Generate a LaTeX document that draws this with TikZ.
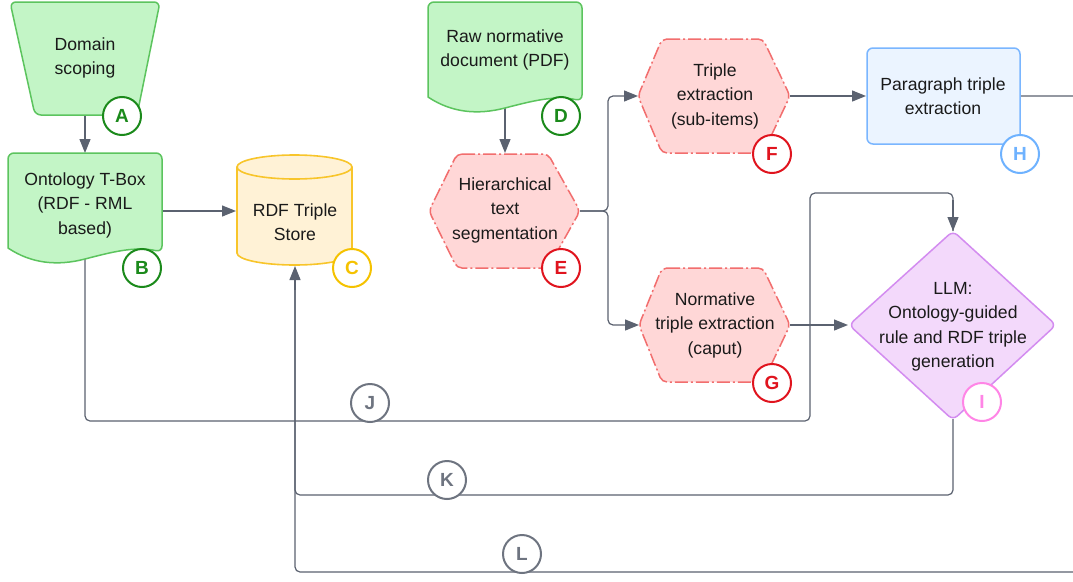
\documentclass[tikz,border=0pt]{standalone}
\usepackage{fontspec}
\setmainfont{Liberation Sans}
\usetikzlibrary{arrows.meta}
\definecolor{linegray}{HTML}{5B6270}
\definecolor{txt}{HTML}{1A1A1A}
\definecolor{gfill}{HTML}{C3F5C6}
\definecolor{gdraw}{HTML}{5CC45E}
\definecolor{gbadge}{HTML}{1B8A1B}
\definecolor{yfill}{HTML}{FFF2D6}
\definecolor{ydraw}{HTML}{F8C52A}
\definecolor{ybadge}{HTML}{F5C200}
\definecolor{rfill}{HTML}{FFD7D7}
\definecolor{rdraw}{HTML}{F26E6E}
\definecolor{rbadge}{HTML}{E0141E}
\definecolor{bfill}{HTML}{EBF4FF}
\definecolor{bdraw}{HTML}{7AB6FF}
\definecolor{bbadge}{HTML}{6EB2FF}
\definecolor{pfill}{HTML}{F3D9FB}
\definecolor{pdraw}{HTML}{D38CF0}
\definecolor{pbadge}{HTML}{FF85E6}
\definecolor{jbadge}{HTML}{6E7480}
\tikzset{
  conn/.style={draw=linegray, line width=1.2pt, rounded corners=5pt},
  arr/.style={conn, -{Triangle[length=14pt,width=11pt]}},
  lbl/.style={align=center, font=\fontsize{17.6}{24.5}\selectfont, text=txt, inner sep=0pt},
  badge/.style={circle, draw=#1, fill=white, line width=2pt, minimum size=38pt, inner sep=0pt, text=#1, font=\fontsize{19}{19}\selectfont\bfseries},
  gshape/.style={draw=gdraw, fill=gfill, line width=1.5pt, rounded corners=6pt},
  yshape/.style={draw=ydraw, fill=yfill, line width=1.6pt},
  rshape/.style={draw=rdraw, fill=rfill, line width=1.5pt, rounded corners=5pt, dash pattern=on 13pt off 3pt on 2pt off 3pt},
  bshape/.style={draw=bdraw, fill=bfill, line width=1.5pt, rounded corners=6pt},
  pshape/.style={draw=pdraw, fill=pfill, line width=1.5pt, rounded corners=6pt},
}
\begin{document}
\begin{tikzpicture}[x=1pt,y=-1pt]
\useasboundingbox[fill=white] (0,0) rectangle (1073,581);

% connection points
\coordinate (Abot) at (85,115);
\coordinate (Btop) at (85,153);
\coordinate (Bright) at (162,211);
\coordinate (Bbot) at (85,258);
\coordinate (Cleft) at (236,211);
\coordinate (Cbot) at (295,266);
\coordinate (Dbot) at (505,106);
\coordinate (Etop) at (505,153);
\coordinate (Eright) at (580,211);
\coordinate (Fleft) at (638,96);
\coordinate (Fright) at (790,96);
\coordinate (Gleft) at (639,325);
\coordinate (Gright) at (790,325);
\coordinate (Hleft) at (866,96);
\coordinate (Hright) at (1020,96);
\coordinate (Ileft) at (848,325);
\coordinate (Itop) at (953,231);
\coordinate (Ibot) at (953,419);
\coordinate (Jturn) at (810,421);
\coordinate (Kturn) at (295,495);
\coordinate (Lout) at (1090,96);

% connectors (drawn first, under shapes)
\draw[conn] (Bbot) -- (85,421) -- (Jturn) -- (810,193) -- (953,193) -- (Itop);
\draw[arr] (953,200) -- (Itop);
\draw[conn] (Ibot) -- (953,495) -- (Kturn) -- (295,280);
\draw[conn] (Hright) -- (Lout) -- (1090,572) -- (295,572) -- (295,280);
\draw[arr] (295,290) -- (Cbot);
\draw[arr] (Abot) -- (Btop);
\draw[arr] (Bright) -- (Cleft);
\draw[arr] (Dbot) -- (Etop);
\draw[arr] (Eright) -- (608,211) -- (608,96) -- (Fleft);
\draw[arr] (Eright) -- (608,211) -- (608,325) -- (Gleft);
\draw[arr] (Fright) -- (Hleft);
\draw[arr] (Gright) -- (Ileft);

% A: trapezoid
\draw[gshape] (10,2) -- (160,2) -- (137,115) -- (35,115) -- cycle;
\node[lbl] (A) at (85,58) {Domain\\scoping};

% B: document
\draw[gshape] (8,248) -- (8,153) -- (162,153) -- (162,252) [sharp corners] .. controls (135,246) and (112,252) .. (85,259) .. controls (58,266) and (32,264) .. (8,248) -- cycle;
\node[lbl] (B) at (85,205) {Ontology T-Box\\(RDF - RML\\based)};

% C: cylinder
\draw[yshape] (237,167) -- (237,253) arc[start angle=180, end angle=360, x radius=57.5pt, y radius=12pt] -- (352,167) arc[start angle=0, end angle=180, x radius=57.5pt, y radius=12pt] -- cycle;
\draw[yshape] (237,167) arc[start angle=180, end angle=360, x radius=57.5pt, y radius=12pt];
\node[lbl] (C) at (295,222) {RDF Triple\\Store};

% D: document
\draw[gshape] (428,97) -- (428,2) -- (582,2) -- (582,101) [sharp corners] .. controls (555,95) and (532,101) .. (505,108) .. controls (478,115) and (452,113) .. (428,97) -- cycle;
\node[lbl] (D) at (505,50) {Raw normative\\document (PDF)};

% E: hexagon
\draw[rshape] (457,154) -- (548,154) -- (580,211) -- (548,268) -- (457,268) -- (429,211) -- cycle;
\node[lbl] (E) at (505,210) {Hierarchical\\text\\segmentation};

% F: hexagon
\draw[rshape] (662,39) -- (763,39) -- (790,96) -- (763,153) -- (662,153) -- (638,96) -- cycle;
\node[lbl] (F) at (715,96) {Triple\\extraction\\(sub-items)};

% G: hexagon
\draw[rshape] (662,268) -- (763,268) -- (790,325) -- (763,382) -- (662,382) -- (639,325) -- cycle;
\node[lbl] (G) at (715,325) {Normative\\triple extraction\\(caput)};

% H: rounded rectangle
\draw[bshape] (867,48) rectangle (1020,144);
\node[lbl] (H) at (943,96) {Paragraph triple\\extraction};

% I: diamond
\draw[pshape] (953,231) -- (1056,325) -- (953,420) -- (849,325) -- cycle;
\node[lbl] (I) at (953,327) {LLM:\\Ontology-guided\\rule and RDF triple\\generation};

% badges
\node[badge=gbadge] (bA) at (122,116) {A};
\node[badge=gbadge] (bB) at (142,268) {B};
\node[badge=ybadge] (bC) at (352,268) {C};
\node[badge=gbadge] (bD) at (561,116) {D};
\node[badge=rbadge] (bE) at (561,268) {E};
\node[badge=rbadge] (bF) at (772,154) {F};
\node[badge=rbadge] (bG) at (772,383) {G};
\node[badge=bbadge] (bH) at (1020,154) {H};
\node[badge=pbadge] (bI) at (982,402) {I};
\node[badge=jbadge] (bJ) at (370,403) {J};
\node[badge=jbadge] (bK) at (447,480) {K};
\node[badge=jbadge] (bL) at (522,554) {L};
\end{tikzpicture}
\end{document}
